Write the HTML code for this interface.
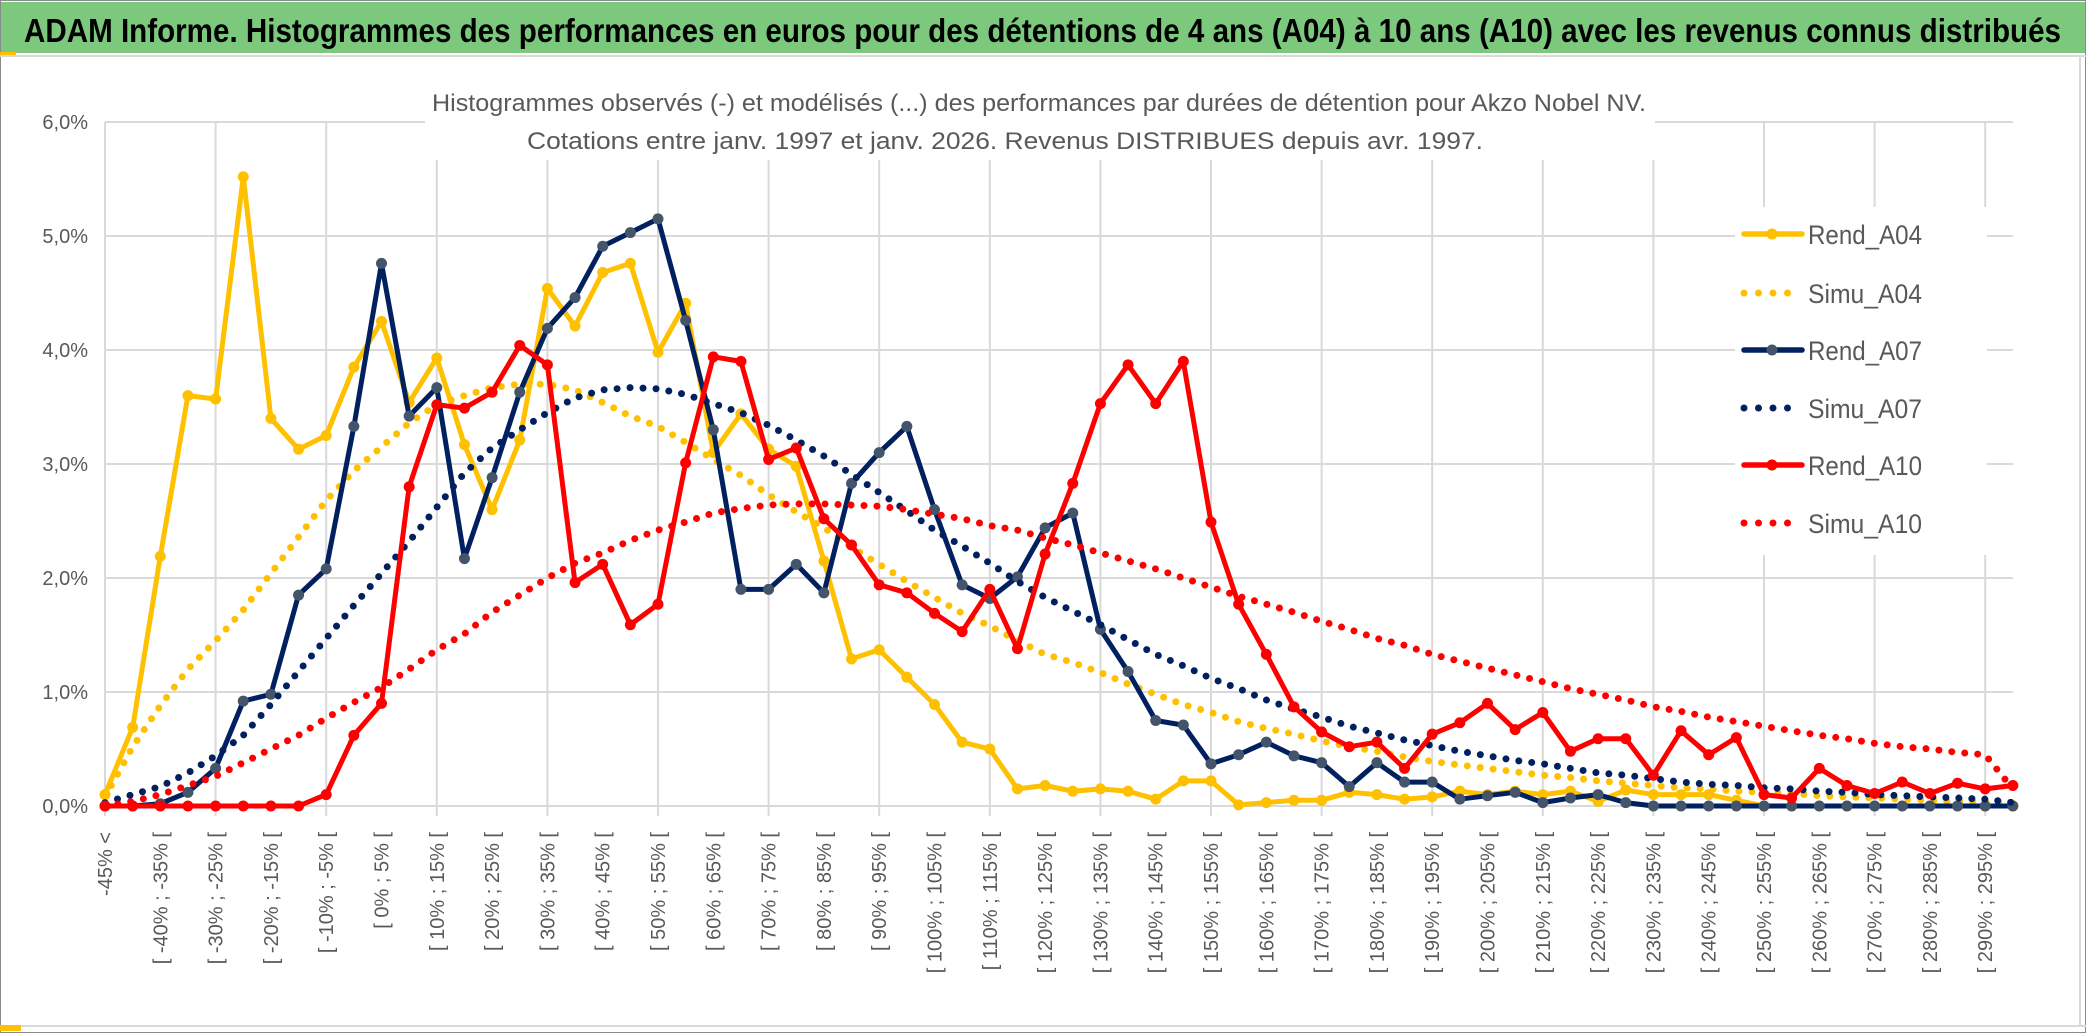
<!DOCTYPE html>
<html><head><meta charset="utf-8">
<style>
html,body{margin:0;padding:0;background:#fff;}
svg{display:block;font-family:"Liberation Sans Narrow","Liberation Sans",sans-serif;}
</style></head>
<body>
<svg id="chart" width="2086" height="1033" viewBox="0 0 2086 1033" xmlns="http://www.w3.org/2000/svg">
  <rect x="0" y="0" width="2086" height="1033" fill="#fff"/>
  <rect x="0.5" y="0.5" width="2085" height="1032" fill="none" stroke="#8a8a8a" stroke-width="1"/>
  <rect x="1" y="2" width="2084" height="51" fill="#7cc97e"/>
  <line x1="0" y1="56" x2="2086" y2="56" stroke="#d9d9d9" stroke-width="2"/>
  <rect x="0" y="52" width="16" height="3" fill="#ffc000"/>
  <text x="24" y="42" font-size="33" font-weight="bold" fill="#000" textLength="2037" lengthAdjust="spacingAndGlyphs">ADAM Informe. Histogrammes des performances en euros pour des détentions de 4 ans (A04) à 10 ans (A10) avec les revenus connus distribués</text>
  <line x1="0" y1="1026" x2="2086" y2="1026" stroke="#d9d9d9" stroke-width="2"/>
  <line x1="2080" y1="56" x2="2080" y2="1026" stroke="#d9d9d9" stroke-width="2"/>
  <rect x="0" y="1025" width="21" height="6" fill="#ffc000"/>
  <g id="grid"></g>
  <g id="yaxis"></g>
  <g id="xaxis"></g>
  <g id="series"></g>
  <rect x="425" y="78" width="1230" height="82" fill="#fff"/>
  <text x="1039" y="111" font-size="24" fill="#595959" text-anchor="middle" textLength="1214" lengthAdjust="spacingAndGlyphs">Histogrammes observés (-) et modélisés (...) des performances par durées de détention pour Akzo Nobel NV.</text>
  <text x="1005" y="149" font-size="24" fill="#595959" text-anchor="middle" textLength="956" lengthAdjust="spacingAndGlyphs">Cotations entre janv. 1997 et janv. 2026. Revenus DISTRIBUES depuis avr. 1997.</text>
  <rect x="1735" y="207" width="252" height="348" fill="#fff"/>
  <g id="legend"></g>
</svg>
<script>
const categoryCount = 70;
const yTicks = [0, 1, 2, 3, 4, 5, 6];
const yTickLabels = ["0,0%", "1,0%", "2,0%", "3,0%", "4,0%", "5,0%", "6,0%"];
const rendA04 = [0.1,0.69,2.19,3.6,3.57,5.52,3.4,3.13,3.25,3.85,4.25,3.54,3.93,3.17,2.6,3.21,4.54,4.21,4.68,4.76,3.98,4.41,3.1,3.44,3.13,2.98,2.15,1.29,1.37,1.13,0.89,0.56,0.5,0.15,0.18,0.13,0.15,0.13,0.06,0.22,0.22,0.01,0.03,0.05,0.05,0.12,0.1,0.06,0.08,0.13,0.1,0.13,0.1,0.13,0.04,0.14,0.1,0.1,0.1,0.05,0,0,0,0,0,0,0,0,0,0];
const simuA04 = [0.08,0.52,0.88,1.2,1.45,1.72,2.04,2.36,2.68,2.94,3.15,3.36,3.52,3.6,3.67,3.7,3.7,3.65,3.54,3.42,3.33,3.19,3.04,2.9,2.73,2.58,2.44,2.27,2.12,1.97,1.83,1.69,1.58,1.45,1.33,1.26,1.17,1.07,0.98,0.89,0.82,0.74,0.68,0.63,0.57,0.52,0.48,0.43,0.39,0.36,0.33,0.3,0.27,0.25,0.22,0.2,0.18,0.16,0.15,0.13,0.12,0.11,0.09,0.08,0.07,0.06,0.05,0.04,0.04,0.03];
const rendA07 = [0,0,0.02,0.12,0.33,0.92,0.98,1.85,2.08,3.33,4.76,3.42,3.67,2.17,2.88,3.63,4.19,4.46,4.91,5.03,5.15,4.26,3.3,1.9,1.9,2.12,1.87,2.83,3.1,3.33,2.6,1.94,1.82,2.01,2.44,2.57,1.55,1.18,0.75,0.71,0.37,0.45,0.56,0.44,0.38,0.17,0.38,0.21,0.21,0.06,0.09,0.12,0.03,0.07,0.1,0.03,0,0,0,0,0,0,0,0,0,0,0,0,0,0];
const simuA07 = [0.03,0.1,0.17,0.29,0.44,0.62,0.89,1.18,1.47,1.76,2.04,2.32,2.62,2.92,3.14,3.3,3.45,3.58,3.65,3.67,3.66,3.61,3.53,3.45,3.34,3.21,3.07,2.91,2.75,2.59,2.42,2.28,2.13,1.97,1.83,1.71,1.59,1.46,1.33,1.23,1.12,1.03,0.93,0.85,0.78,0.7,0.64,0.58,0.53,0.48,0.44,0.4,0.37,0.33,0.29,0.27,0.24,0.21,0.19,0.18,0.16,0.15,0.13,0.12,0.1,0.09,0.08,0.07,0.06,0.03];
const rendA10 = [0,0,0,0,0,0,0,0,0.1,0.62,0.9,2.8,3.52,3.49,3.63,4.04,3.87,1.96,2.12,1.59,1.77,3.01,3.94,3.9,3.04,3.14,2.52,2.29,1.94,1.87,1.69,1.53,1.9,1.38,2.21,2.83,3.53,3.87,3.53,3.9,2.49,1.77,1.33,0.87,0.65,0.52,0.56,0.33,0.63,0.73,0.9,0.67,0.82,0.48,0.59,0.59,0.27,0.66,0.45,0.6,0.1,0.07,0.33,0.18,0.11,0.21,0.11,0.2,0.15,0.18];
const simuA10 = [0,0.04,0.1,0.18,0.26,0.38,0.5,0.62,0.77,0.91,1.04,1.2,1.37,1.51,1.7,1.85,2.0,2.13,2.22,2.33,2.42,2.49,2.57,2.61,2.64,2.65,2.65,2.64,2.63,2.6,2.56,2.52,2.46,2.42,2.35,2.29,2.22,2.15,2.08,2.0,1.92,1.84,1.77,1.7,1.62,1.55,1.47,1.41,1.33,1.27,1.21,1.15,1.09,1.03,0.98,0.93,0.87,0.83,0.78,0.74,0.7,0.66,0.62,0.59,0.55,0.52,0.5,0.47,0.45,0.15];
const seriesNames = ["Rend_A04","Simu_A04","Rend_A07","Simu_A07","Rend_A10","Simu_A10"];

function catLabel(i){
  if(i===0) return "-45% <";
  const a = -50 + 5*i;
  return "[ " + a + "% ; " + (a+5) + "% [";
}

const NS = "http://www.w3.org/2000/svg";
const X0 = 105, STEP = 27.65, Y0 = 806, YPER = 114;
function xs(i){ return X0 + i*STEP; }
function ys(v){ return Y0 - v*YPER; }
function mk(tag, attrs, parent){
  const e = document.createElementNS(NS, tag);
  for(const k in attrs) e.setAttribute(k, attrs[k]);
  parent.appendChild(e);
  return e;
}
const xRight = xs(categoryCount-1);

const grid = document.getElementById('grid');
yTicks.forEach(function(t){
  const l = mk('line', {x1: X0, x2: xRight, y1: ys(t), y2: ys(t), stroke: '#d9d9d9', 'stroke-width': 2}, grid);
  
  
});
for(let i=0;i<categoryCount;i+=4){
  const l = mk('line', {x1: xs(i), x2: xs(i), y1: ys(6), y2: ys(0)+10, stroke: '#d9d9d9', 'stroke-width': 2}, grid);
  
  
}

const yaxis = document.getElementById('yaxis');
yTicks.forEach(function(t, k){
  const tx = mk('text', {x: 88, y: ys(t)+7, 'font-size': 20, fill: '#595959', 'text-anchor': 'end'}, yaxis);
  tx.textContent = yTickLabels[k];
  
  
});

const xaxis = document.getElementById('xaxis');
for(let i=0;i<categoryCount;i+=2){
  const tx = mk('text', {x: 0, y: 0, 'font-size': 20, fill: '#595959', 'text-anchor': 'end', transform: 'translate(' + (xs(i)+7) + ',832) rotate(-90)'}, xaxis);
  tx.textContent = catLabel(i);
  
  
}

const seriesDefs = [
  {data: rendA04, color: '#ffc000', marker: '#ffc000', dotted: false},
  {data: simuA04, color: '#ffc000', dotted: true},
  {data: rendA07, color: '#002060', marker: '#44546a', dotted: false},
  {data: simuA07, color: '#002060', dotted: true},
  {data: rendA10, color: '#ff0000', marker: '#ff0000', dotted: false},
  {data: simuA10, color: '#ff0000', dotted: true}
];
const sg = document.getElementById('series');
seriesDefs.forEach(function(s, k){
  const g = mk('g', {}, sg);
  
  
  const pts = s.data.map(function(v,i){ return xs(i).toFixed(1) + ',' + ys(v).toFixed(1); }).join(' ');
  const attrs = {points: pts, fill: 'none', stroke: s.color, 'stroke-linejoin': 'round'};
  if(s.dotted){ attrs['stroke-width'] = 7; attrs['stroke-dasharray'] = '0 13'; attrs['stroke-linecap'] = 'round'; }
  else { attrs['stroke-width'] = 5; attrs['stroke-linecap'] = 'round'; }
  const pl = mk('polyline', attrs, g);
  
  
  if(!s.dotted){
    s.data.forEach(function(v,i){
      const c = mk('circle', {cx: xs(i), cy: ys(v), r: 5.5, fill: s.marker}, g);
      
      
    });
  }
});

const lg = document.getElementById('legend');
const legendY = [234, 293, 350, 408, 465, 523];
seriesDefs.forEach(function(s, k){
  const y = legendY[k];
  const g = mk('g', {}, lg);
  
  
  if(s.dotted){
    mk('line', {x1: 1744, x2: 1800, y1: y, y2: y, stroke: s.color, 'stroke-width': 7, 'stroke-dasharray': '0 14.5', 'stroke-linecap': 'round'}, g);
  } else {
    mk('line', {x1: 1744, x2: 1802, y1: y, y2: y, stroke: s.color, 'stroke-width': 5.5, 'stroke-linecap': 'round'}, g);
    mk('circle', {cx: 1772, cy: y, r: 5.5, fill: s.marker}, g);
  }
  const t = mk('text', {x: 1808, y: y+10, 'font-size': 27, fill: '#595959', textLength: 114, lengthAdjust: 'spacingAndGlyphs'}, g);
  t.textContent = seriesNames[k];
});
</script>
</body></html>
